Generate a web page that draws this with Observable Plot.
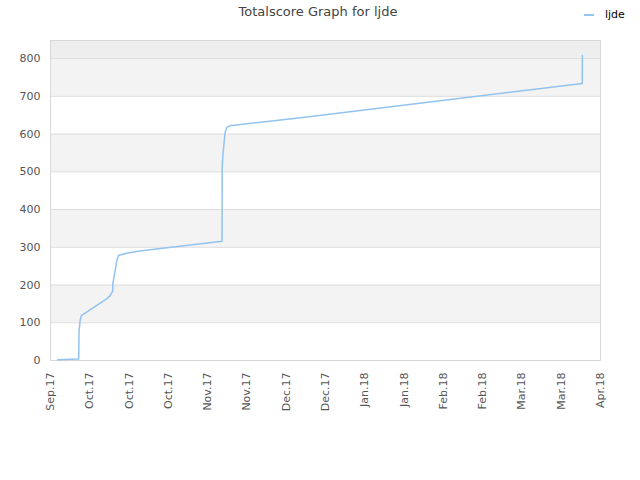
<!DOCTYPE html>
<html><head><meta charset="utf-8">
<script src="https://cdn.jsdelivr.net/npm/d3@7"></script>
<script src="https://cdn.jsdelivr.net/npm/@observablehq/plot@0.6"></script>
<style>
body{margin:0;background:#fff;font-family:"DejaVu Sans",sans-serif;}
#wrap{position:relative;width:640px;height:480px;}
#title{position:absolute;left:0;width:636px;top:4px;text-align:center;font-size:13px;color:#444;}
#legend{position:absolute;left:584px;top:8px;font-size:11px;color:#000;display:flex;align-items:center;}
#legend .sw{display:inline-block;width:10px;height:2px;background:#95c5f0;margin-right:11px;}
#chart{position:absolute;left:0;top:0;}
</style></head><body>
<div id="wrap"><div id="chart"></div><div id="title">Totalscore Graph for ljde</div><div id="legend"><span class="sw"></span>ljde</div></div>
<script>
const dates = [
  "2017-09-18T19:00","2017-09-26T18:00","2017-09-26T22:00","2017-09-27T08:00","2017-09-27T18:00",
  "2017-10-07T10:00","2017-10-08T18:00","2017-10-09T18:00","2017-10-09T19:00","2017-10-10T16:00",
  "2017-10-11T08:00","2017-10-11T23:00","2017-10-15T00:00","2017-10-20T00:00","2017-11-20T12:00",
  "2017-11-20T13:00","2017-11-20T19:00","2017-11-21T07:00","2017-11-21T16:00","2017-11-22T09:00",
  "2017-11-23T09:00","2017-12-20T12:00","2018-04-07T01:00","2018-04-07T02:00"
];
const scores = [
  2,4,79,106,119,
  163,172,184,203,238,
  265,278,284,290,316,
  508,543,578,605,618,
  622,643,734,808
];
const tickDates = ["2017-09-16","2017-10-01","2017-10-16","2017-10-31","2017-11-15","2017-11-30","2017-12-15","2017-12-30","2018-01-14","2018-01-29","2018-02-13","2018-02-28","2018-03-15","2018-03-30","2018-04-14"];
const tickLabels = ["Sep.17","Oct.17","Oct.17","Oct.17","Nov.17","Nov.17","Dec.17","Dec.17","Jan.18","Jan.18","Feb.18","Feb.18","Mar.18","Mar.18","Apr.18"];
const yTicks = [0,100,200,300,400,500,600,700,800];
const bandLow = [100,300,500,700,800];
const bandHigh = [200,400,600,800,848];
const bandFill = ["#f3f3f3","#f3f3f3","#f3f3f3","#f3f3f3","#eeeeee"];
const yMax = 848;

const parse = d3.isoParse;
const data = dates.map((d,i)=>({date: parse(d), score: scores[i]}));
const ticks = tickDates.map(parse);
const xStart = ticks[0], xEnd = ticks[ticks.length-1];
const bands = bandLow.map((v,i)=>({lo:v, hi:bandHigh[i], fill:bandFill[i]}));

const chart = Plot.plot({
  width: 640, height: 480,
  marginTop: 40, marginBottom: 120, marginLeft: 50, marginRight: 40,
  style: {fontFamily: "DejaVu Sans", fontSize: "11px", color: "#555", background: "transparent"},
  x: {type: "utc", domain: [xStart, xEnd]},
  y: {domain: [0, yMax]},
  marks: [
    Plot.rect(bands, {x1: () => xStart, x2: () => xEnd, y1: "lo", y2: "hi", fill: "fill"}),
    Plot.ruleY(yTicks, {stroke: "#dddddd", strokeWidth: 1}),
    Plot.frame({stroke: "#d8d8d8"}),
    Plot.line(data, {x: "date", y: "score", stroke: "#92c3f0", strokeWidth: 1.5}),
    Plot.axisY({ticks: yTicks, tickSize: 0, tickPadding: 10, label: null, fill: "#555"}),
    Plot.axisX({ticks: ticks, tickSize: 0, tickPadding: 12, tickRotate: -90, label: null,
      tickFormat: (d) => tickLabels[ticks.findIndex(t => +t === +d)], fill: "#555"})
  ]
});
document.getElementById("chart").appendChild(chart);
</script>
</body></html>
